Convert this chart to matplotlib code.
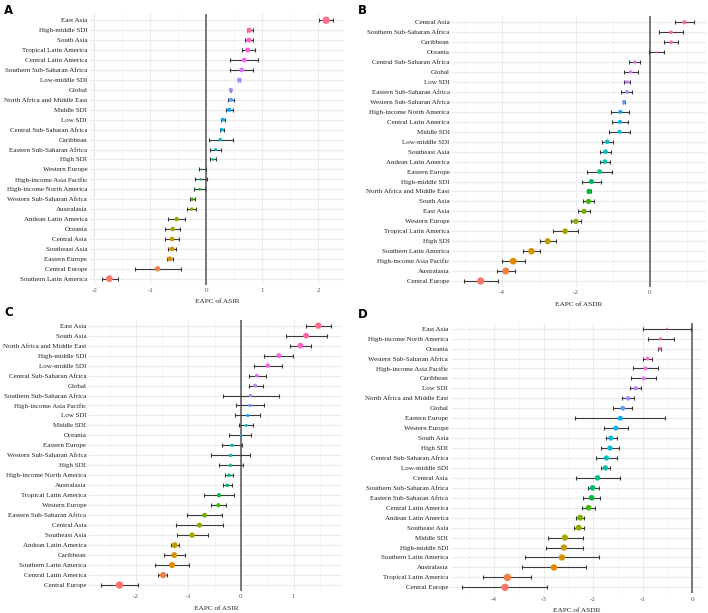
import numpy as np
import matplotlib
matplotlib.use("Agg")
import matplotlib.pyplot as plt
from matplotlib.ticker import MultipleLocator

plt.rcParams['axes.unicode_minus'] = False

# A: EAPC of ASIR (top to bottom)
a_names = ["East Asia", "High-middle SDI", "South Asia", "Tropical Latin America", "Central Latin America",
           "Southern Sub-Saharan Africa", "Low-middle SDI", "Global", "North Africa and Middle East", "Middle SDI",
           "Low SDI", "Central Sub-Saharan Africa", "Caribbean", "Eastern Sub-Saharan Africa", "High SDI",
           "Western Europe", "High-income Asia Pacific", "High-income North America", "Western Sub-Saharan Africa",
           "Australasia", "Andean Latin America", "Oceania", "Central Asia", "Southeast Asia", "Eastern Europe",
           "Central Europe", "Southern Latin America"]
a_val = [2.14, 0.77, 0.76, 0.74, 0.68, 0.63, 0.59, 0.44, 0.44, 0.41, 0.30, 0.28, 0.25, 0.17, 0.12,
         -0.08, -0.10, -0.12, -0.25, -0.26, -0.53, -0.60, -0.61, -0.61, -0.65, -0.87, -1.73]
a_lo = [2.02, 0.72, 0.70, 0.63, 0.43, 0.43, 0.57, 0.43, 0.38, 0.35, 0.26, 0.24, 0.04, 0.07, 0.06,
        -0.13, -0.21, -0.22, -0.29, -0.34, -0.69, -0.73, -0.74, -0.68, -0.71, -1.28, -1.87]
a_hi = [2.26, 0.83, 0.83, 0.87, 0.92, 0.84, 0.61, 0.45, 0.50, 0.48, 0.34, 0.32, 0.47, 0.27, 0.18,
        -0.01, 0.02, -0.02, -0.20, -0.19, -0.38, -0.47, -0.49, -0.54, -0.59, -0.46, -1.58]

# B: EAPC of ASDR
b_names = ["Central Asia", "Southern Sub-Saharan Africa", "Caribbean", "Oceania", "Central Sub-Saharan Africa",
           "Global", "Low SDI", "Eastern Sub-Saharan Africa", "Western Sub-Saharan Africa",
           "High-income North America", "Central Latin America", "Middle SDI", "Low-middle SDI", "Southeast Asia",
           "Andean Latin America", "Eastern Europe", "High-middle SDI", "North Africa and Middle East",
           "South Asia", "East Asia", "Western Europe", "Tropical Latin America", "High SDI",
           "Southern Latin America", "High-income Asia Pacific", "Australasia", "Central Europe"]
b_val = [0.93, 0.57, 0.57, 0.17, -0.41, -0.52, -0.62, -0.62, -0.70, -0.80, -0.81, -0.82, -1.15, -1.20,
         -1.22, -1.36, -1.58, -1.64, -1.66, -1.78, -2.00, -2.29, -2.76, -3.20, -3.69, -3.89, -4.57]
b_lo = [0.67, 0.25, 0.37, -0.02, -0.56, -0.71, -0.70, -0.77, -0.73, -1.04, -1.02, -1.10, -1.29, -1.34,
        -1.36, -1.69, -1.84, -1.70, -1.82, -1.95, -2.12, -2.62, -2.97, -3.42, -3.99, -4.13, -5.02]
b_hi = [1.19, 0.88, 0.76, 0.38, -0.28, -0.32, -0.54, -0.48, -0.67, -0.56, -0.60, -0.54, -1.00, -1.05,
        -1.09, -1.03, -1.31, -1.58, -1.51, -1.61, -1.87, -1.95, -2.54, -2.98, -3.36, -3.63, -4.11]

# C: EAPC of ASIR
c_names = ["East Asia", "South Asia", "North Africa and Middle East", "High-middle SDI", "Low-middle SDI",
           "Central Sub-Saharan Africa", "Global", "Southern Sub-Saharan Africa", "High-income Asia Pacific",
           "Low SDI", "Middle SDI", "Oceania", "Eastern Europe", "Western Sub-Saharan Africa", "High SDI",
           "High-income North America", "Australasia", "Tropical Latin America", "Western Europe",
           "Eastern Sub-Saharan Africa", "Central Asia", "Southeast Asia", "Andean Latin America", "Caribbean",
           "Southern Latin America", "Central Latin America", "Central Europe"]
c_val = [1.47, 1.24, 1.13, 0.72, 0.51, 0.30, 0.27, 0.18, 0.17, 0.13, 0.10, -0.01, -0.17, -0.20, -0.20,
         -0.23, -0.26, -0.42, -0.43, -0.69, -0.79, -0.93, -1.26, -1.27, -1.31, -1.48, -2.31]
c_lo = [1.24, 0.85, 0.94, 0.44, 0.25, 0.15, 0.15, -0.35, -0.10, -0.11, -0.03, -0.22, -0.36, -0.57, -0.42,
        -0.31, -0.34, -0.71, -0.57, -1.03, -1.24, -1.22, -1.34, -1.46, -1.64, -1.57, -2.67]
c_hi = [1.71, 1.64, 1.33, 0.99, 0.78, 0.47, 0.41, 0.72, 0.44, 0.37, 0.23, 0.19, 0.01, 0.17, 0.03,
        -0.16, -0.18, -0.14, -0.29, -0.36, -0.34, -0.63, -1.17, -1.07, -0.98, -1.40, -1.95]

# D: EAPC of ASDR
d_names = ["East Asia", "High-income North America", "Oceania", "Western Sub-Saharan Africa",
           "High-income Asia Pacific", "Caribbean", "Low SDI", "North Africa and Middle East", "Global",
           "Eastern Europe", "Western Europe", "South Asia", "High SDI", "Central Sub-Saharan Africa",
           "Low-middle SDI", "Central Asia", "Southern Sub-Saharan Africa", "Eastern Sub-Saharan Africa",
           "Central Latin America", "Andean Latin America", "Southeast Asia", "Middle SDI", "High-middle SDI",
           "Southern Latin America", "Australasia", "Tropical Latin America", "Central Europe"]
d_val = [-0.51, -0.64, -0.65, -0.90, -0.94, -0.98, -1.14, -1.29, -1.40, -1.45, -1.54, -1.64, -1.66, -1.73,
         -1.75, -1.91, -2.01, -2.03, -2.09, -2.26, -2.29, -2.57, -2.59, -2.63, -2.79, -3.73, -3.78]
d_lo = [-1.00, -0.90, -0.69, -1.00, -1.19, -1.24, -1.25, -1.42, -1.60, -2.36, -1.78, -1.74, -1.83, -1.95,
        -1.85, -2.35, -2.11, -2.20, -2.22, -2.34, -2.39, -2.92, -2.96, -3.37, -3.43, -4.22, -4.64]
d_hi = [-0.03, -0.37, -0.63, -0.80, -0.69, -0.73, -1.04, -1.17, -1.21, -0.54, -1.29, -1.52, -1.47, -1.51,
        -1.66, -1.46, -1.89, -1.86, -1.97, -2.19, -2.19, -2.20, -2.20, -1.89, -2.15, -3.25, -2.94]


def hue_colors(n, l=65, c=100):
    # ggplot-style hue palette (polar LUV -> sRGB)
    hues = np.linspace(15, 375, n + 1)[:n]
    Xn, Yn, Zn = 95.047, 100.0, 108.883
    un = 4 * Xn / (Xn + 15 * Yn + 3 * Zn)
    vn = 9 * Yn / (Xn + 15 * Yn + 3 * Zn)
    out = []
    for h in hues:
        u = c * np.cos(np.radians(h))
        v = c * np.sin(np.radians(h))
        Y = Yn * ((l + 16) / 116) ** 3
        up = u / (13 * l) + un
        vp = v / (13 * l) + vn
        X = 9 * Y * up / (4 * vp)
        Z = Y * (12 - 3 * up - 20 * vp) / (4 * vp)
        xyz = np.array([X, Y, Z]) / 100
        m = np.array([[3.2404542, -1.5371385, -0.4985314],
                      [-0.9692660, 1.8760108, 0.0415560],
                      [0.0556434, -0.2040259, 1.0572252]])
        rgb = m @ xyz
        rgb = np.where(rgb <= 0.0031308, 12.92 * rgb, 1.055 * np.clip(rgb, 0, None) ** (1 / 2.4) - 0.055)
        out.append(tuple(np.clip(rgb, 0, 1)))
    return out


W, H = 708, 613
fig = plt.figure(figsize=(W / 100, H / 100), dpi=100)
serif = "Liberation Serif"


def panel(letter, box, names, val, lo, hi, xlabel, major, minor, lx, ly):
    x0, x1, y0, y1 = box  # pixel coords (left, right, top, bottom)
    ax = fig.add_axes([x0 / W, 1 - y1 / H, (x1 - x0) / W, (y1 - y0) / H])
    n = len(names)
    y = np.arange(n)[::-1]
    val = np.array(val)
    lo = np.array(lo)
    hi = np.array(hi)
    cols = hue_colors(n)[::-1]  # top row gets the last hue
    a = np.abs(val)
    r = (a - a.min()) / (a.max() - a.min())
    d_px = (1 + 5 * np.sqrt(r)) * 1.1 + 0.8
    s = (d_px * 0.72) ** 2

    span = hi.max() - lo.min()
    ax.set_xlim(lo.min() - 0.05 * span, hi.max() + 0.05 * span)
    ax.set_ylim(-0.6, n - 0.4)

    ax.xaxis.set_major_locator(MultipleLocator(major))
    ax.xaxis.set_minor_locator(MultipleLocator(minor))
    ax.grid(True, which='major', color='#EBEBEB', linewidth=0.8)
    ax.grid(True, which='minor', axis='x', color='#F3F3F3', linewidth=0.5)
    ax.set_axisbelow(True)
    for sp in ax.spines.values():
        sp.set_visible(False)

    ax.axvline(0, color='#555555', linewidth=1.1, zorder=1)
    ax.errorbar(val, y, xerr=[val - lo, hi - val], fmt='none', ecolor='#3A3A3A',
                elinewidth=0.8, capsize=1.1, capthick=0.8, zorder=2)
    ax.scatter(val, y, s=s, c=cols, linewidths=0, zorder=3)

    ax.set_yticks(y)
    ax.set_yticklabels(names, fontsize=5, family=serif, color='#222222')
    ax.tick_params(axis='both', which='both', length=0)
    ax.tick_params(axis='y', pad=2)
    ax.tick_params(axis='x', pad=2.5, labelsize=5, labelcolor='#555555')
    for t in ax.get_xticklabels():
        t.set_family(serif)
    ax.set_xlabel(xlabel, fontsize=5.2, family=serif, color='#222222', labelpad=4.5)
    fig.text(lx / W, 1 - ly / H, letter, fontsize=8.5, fontweight='bold', family='DejaVu Sans',
             ha='left', va='center')
    return ax


panel("A", (90, 344.4, 14.3, 284.7), a_names, a_val, a_lo, a_hi, "EAPC of ASIR", 1, 0.5, 4, 11)
panel("B", (452.4, 705.6, 16.3, 287.0), b_names, b_val, b_lo, b_hi, "EAPC of ASDR", 2, 1, 358, 10)
panel("C", (89.1, 342.4, 319.7, 591.0), c_names, c_val, c_lo, c_hi, "EAPC of ASIR", 1, 0.5, 4, 313)
panel("D", (451.0, 702.0, 322.7, 593.3), d_names, d_val, d_lo, d_hi, "EAPC of ASDR", 1, 0.5, 358, 314)

fig.savefig("out.png", dpi=100)
